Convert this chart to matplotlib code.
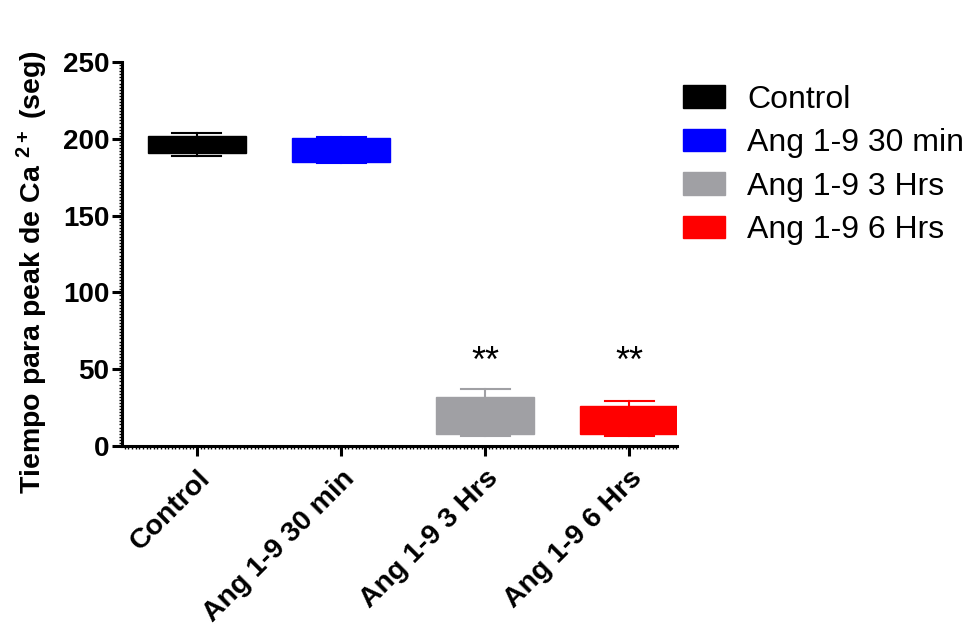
import matplotlib
matplotlib.use("Agg")
import matplotlib.pyplot as plt
from matplotlib.patches import Patch
from matplotlib.ticker import MultipleLocator

plt.rcParams['font.family'] = ['Liberation Sans', 'DejaVu Sans']
plt.rcParams['mathtext.fontset'] = 'custom'
plt.rcParams['mathtext.rm'] = 'Liberation Sans'
plt.rcParams['mathtext.bf'] = 'Liberation Sans:bold'

# data (box plot: whisker low, q1, median, q3, whisker high)
groups = ['Control', 'Ang 1-9 30 min', 'Ang 1-9 3 Hrs', 'Ang 1-9 6 Hrs']
whislo = [189, 184, 6.5, 6.5]
q1 = [191, 185, 7.5, 7.5]
med = [197, 192, 20, 16]
q3 = [202, 200.5, 32, 26]
whishi = [203.5, 201.5, 37, 29]
colors = ['#000000', '#0000FF', '#A0A0A4', '#FF0000']
star_labels = ['', '', '**', '**']
star_y = [0, 0, 54.5, 54.5]

fig = plt.figure(figsize=(9.66, 6.31), dpi=100)
ax = fig.add_axes([0.1263, 0.2932, 0.5745, 0.6085])

pos = list(range(len(groups)))
for i in pos:
    st = [{'whislo': whislo[i], 'q1': q1[i], 'med': med[i], 'q3': q3[i],
           'whishi': whishi[i], 'fliers': []}]
    c = colors[i]
    ax.bxp(st, positions=[i], widths=0.68, capwidths=0.34, patch_artist=True,
           showfliers=False,
           boxprops=dict(facecolor=c, edgecolor=c, linewidth=1),
           whiskerprops=dict(color=c, linewidth=1.5),
           capprops=dict(color=c, linewidth=1.5),
           medianprops=dict(color=c, linewidth=1.5))
    if star_labels[i]:
        ax.text(i, star_y[i], star_labels[i], ha='center', va='center', fontsize=26)

ax.set_xlim(-0.52, 3.33)
ax.set_ylim(0, 250)
ax.set_yticks([0, 50, 100, 150, 200, 250])
ax.yaxis.set_minor_locator(MultipleLocator(2))
ax.xaxis.set_minor_locator(MultipleLocator(0.025))
ax.set_xticks(pos)
ax.set_xticklabels(groups, rotation=45, ha='right', rotation_mode='anchor',
                   fontsize=20.5, fontweight='bold')
for lab in ax.get_yticklabels():
    lab.set_fontsize(20)
    lab.set_fontweight('bold')

ax.spines['top'].set_visible(False)
ax.spines['right'].set_visible(False)
ax.spines['left'].set_linewidth(2.2)
ax.spines['bottom'].set_linewidth(2.2)
ax.tick_params(which='major', length=7, width=2.2, pad=2)
ax.tick_params(axis='x', which='major', pad=7)
ax.tick_params(which='minor', length=2, width=1)

ax.set_ylabel(r'Tiempo para peak de Ca $\mathbf{^{2+}}$ (seg)', fontsize=20.5,
              fontweight='bold')
ax.yaxis.set_label_coords(-0.13, 0.453)

handles = [Patch(facecolor=c, edgecolor=c) for c in colors]
fig.legend(handles, groups, loc='upper left', bbox_to_anchor=(0.6905, 0.891),
           frameon=False, fontsize=23, handlelength=1.3, handleheight=0.7,
           handletextpad=0.7, labelspacing=0.42, borderpad=0)

fig.savefig('out.png', dpi=100)
